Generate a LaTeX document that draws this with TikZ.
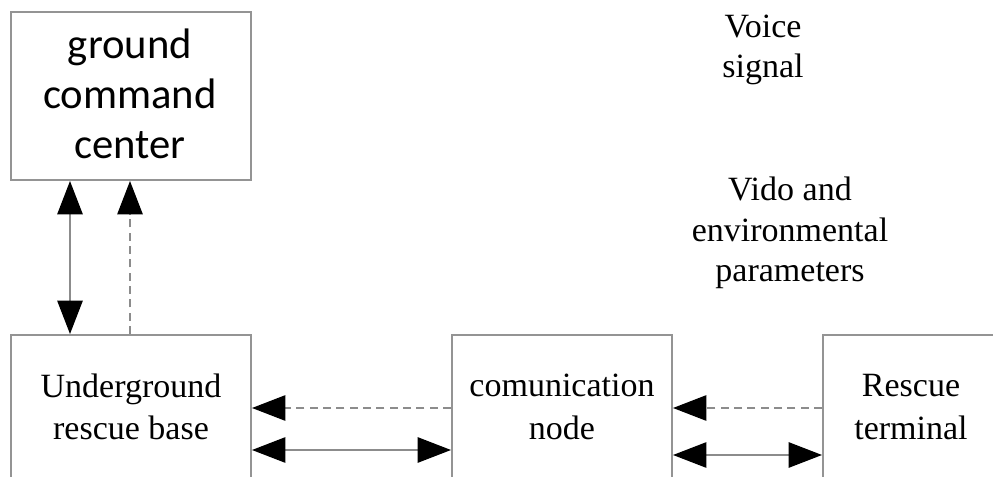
\documentclass[tikz,border=0pt]{standalone}
\usepackage{fontspec}
\setmainfont{Liberation Serif}
\newfontfamily\calib{Carlito}
\usetikzlibrary{arrows.meta}
\begin{document}
\begin{tikzpicture}[x=0.75pt,y=-0.75pt,
  >={Triangle[width=19pt,length=25pt,color=black,fill=black]},
  box/.style={draw=black!42,line width=1.5pt,rectangle,inner sep=0pt,align=center,
    font=\fontsize{25.5}{32}\selectfont},
  link/.style={draw=black!45,line width=1.2pt},
  dlink/.style={link,dash pattern=on 6pt off 4pt},
  lbl/.style={align=center,font=\fontsize{25.5}{30.5}\selectfont,inner sep=0pt}]
\useasboundingbox (0,0) rectangle (993,477);
\clip (0,0) rectangle (993,477);
\node[box,minimum width=240*0.75pt,minimum height=168*0.75pt,
  font=\calib\fontsize{32}{37.5}\selectfont] (ground) at (131,96) {};
\node[align=center,inner sep=0pt,font=\calib\fontsize{32}{37.5}\selectfont] (groundtxt) at (130,94) {ground\\command\\center};
\node[box,minimum width=240*0.75pt,minimum height=144*0.75pt] (base) at (131,407) {Underground\\rescue base};
\node[box,minimum width=220*0.75pt,minimum height=144*0.75pt] (comm) at (562,407) {comunication\\node};
\node[box,minimum width=176*0.75pt,minimum height=144*0.75pt] (term) at (911,407) {Rescue\\terminal};
\node[lbl] (voice) at (763,50) {Voice\\signal};
\node[lbl] (vido) at (790,233) {Vido and\\environmental\\parameters};
% vertical links
\draw[link,<->] (70,0 |- base.north) -- (70,0 |- ground.south);
\draw[dlink,->] (130,0 |- base.north) -- (130,0 |- ground.south);
% base <-> comm
\draw[dlink,->] (comm.west |- 0,408) -- (base.east |- 0,408);
\draw[link,<->] (base.east |- 0,450) -- (comm.west |- 0,450);
% comm <-> terminal
\draw[dlink,->] (term.west |- 0,408) -- (comm.east |- 0,408);
\draw[link,<->] (comm.east |- 0,455) -- (term.west |- 0,455);
\end{tikzpicture}
\end{document}
